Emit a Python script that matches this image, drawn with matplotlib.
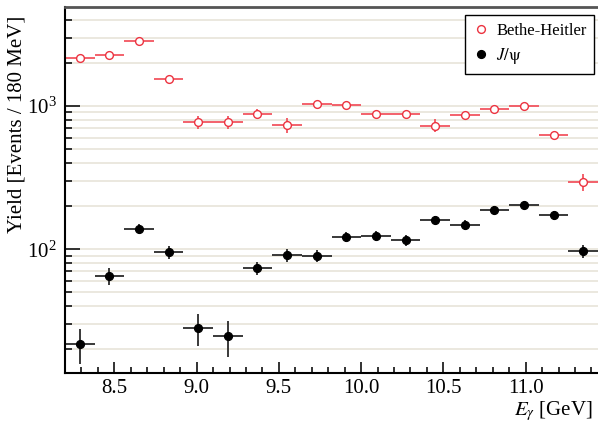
import matplotlib
matplotlib.use("Agg")
from matplotlib import pyplot as plt
from matplotlib.lines import Line2D
from matplotlib.ticker import LogLocator, NullFormatter, MultipleLocator, FormatStrFormatter

plt.rcParams['font.family'] = ['Liberation Serif', 'DejaVu Serif']
plt.rcParams['mathtext.fontset'] = 'stix'

# bin centres (180 MeV bins)
e_gamma = [8.29, 8.47, 8.65, 8.83, 9.01, 9.19, 9.37, 9.55, 9.73,
           9.91, 10.09, 10.27, 10.45, 10.63, 10.81, 10.99, 11.17, 11.35]
half_bin = 0.09

bh_yield = [2160, 2270, 2850, 1535, 770, 770, 885, 735, 1035,
            1010, 885, 885, 730, 865, 950, 1005, 628, 295]
bh_err = [40, 45, 55, 45, 85, 75, 60, 85, 40,
          40, 40, 40, 75, 40, 40, 35, 30, 40]

jpsi_yield = [21.8, 65, 139, 96, 28.1, 24.8, 74, 91, 90,
              121.5, 123.5, 116, 160, 148, 187, 202, 173, 97.5]
jpsi_err = [6, 9, 10, 10, 7, 7, 8, 9, 9,
            10, 10, 10, 11, 11, 12, 12, 12, 10]

red = '#ec3340'

fig = plt.figure(figsize=(5.98, 4.24), dpi=100)
ax = fig.add_axes([0.1087, 0.1203, 0.8913, 0.8632])

ax.errorbar(e_gamma, bh_yield, xerr=half_bin, yerr=bh_err, fmt='o',
            ms=5.6, mfc='white', mec=red, mew=1.0,
            ecolor='#f25560', elinewidth=1.3, capsize=0)
ax.errorbar(e_gamma, jpsi_yield, xerr=half_bin, yerr=jpsi_err, fmt='o',
            ms=5.6, mfc='black', mec='black',
            ecolor='#2a2a2a', elinewidth=1.3, capsize=0)

ax.set_yscale('log')
ax.set_xlim(8.2, 11.44)
ax.set_ylim(13.7, 4900)

ax.yaxis.set_major_locator(LogLocator(base=10, numticks=10))
ax.yaxis.set_minor_locator(LogLocator(base=10, subs=range(2, 10), numticks=20))
ax.yaxis.set_minor_formatter(NullFormatter())
ax.xaxis.set_major_locator(MultipleLocator(0.5))
ax.xaxis.set_minor_locator(MultipleLocator(0.1))
ax.xaxis.set_major_formatter(FormatStrFormatter('%.1f'))

ax.grid(True, which='both', axis='y', color='#e9e6dc', lw=1.3)
ax.set_axisbelow(True)

ax.tick_params(which='both', direction='in', top=False, right=False,
               labelsize=15, width=1.3, color='#222222')
ax.tick_params(axis='x', which='major', length=8, pad=4)
ax.tick_params(axis='x', which='minor', length=4.5)
ax.tick_params(axis='y', which='major', length=11, pad=6)
ax.tick_params(axis='y', which='minor', length=5)

ax.spines['right'].set_visible(False)
ax.spines['top'].set_color('#555555')
ax.spines['top'].set_linewidth(2)
ax.spines['left'].set_linewidth(1.5)
ax.spines['bottom'].set_linewidth(1.5)

ax.set_ylabel('Yield [Events / 180 MeV]', fontsize=15)
ax.yaxis.set_label_coords(-0.073, 0.68)
ax.set_xlabel(r'$E_\gamma$ [GeV]', fontsize=15, loc='right')
ax.xaxis.set_label_coords(0.99, -0.072)

handles = [Line2D([], [], ls='none', marker='o', ms=5.6, mfc='white', mec=red, mew=1.0),
           Line2D([], [], ls='none', marker='o', ms=5.6, mfc='black', mec='black')]
leg = ax.legend(handles, ['Bethe-Heitler', r'$J/\mathrm{\psi}$'], loc='upper right',
                bbox_to_anchor=(0.9925, 0.978), fontsize=12,
                frameon=True, fancybox=False, edgecolor='black', framealpha=1,
                handletextpad=0.4, borderpad=0.45, labelspacing=0.45,
                handlelength=1.0, borderaxespad=0)
leg.get_frame().set_linewidth(1.0)

fig.savefig('out.png', dpi=100)
